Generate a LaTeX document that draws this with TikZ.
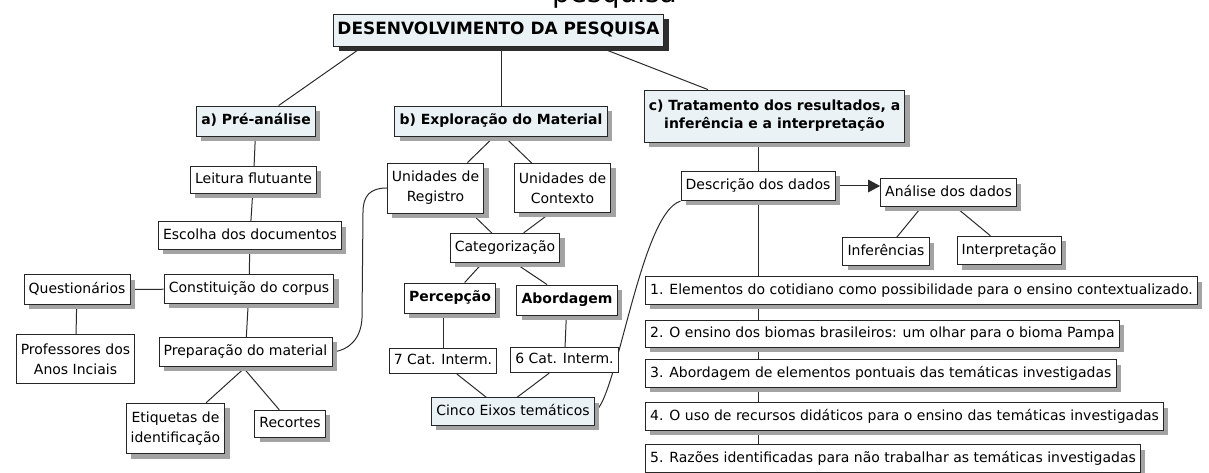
\documentclass[tikz,border=0pt]{standalone}
\usepackage{fontspec}
\setmainfont{DejaVu Sans}
\usetikzlibrary{shadows}
\usetikzlibrary{backgrounds}
\usetikzlibrary{arrows.meta}
\definecolor{PaleBlue}{HTML}{EAF2F6}
\definecolor{ShadowGray}{HTML}{A3A3A3}
\definecolor{ShadowDark}{HTML}{2E2E2E}
\definecolor{LineGray}{HTML}{2B2B2B}
\tikzset{
  plainbox/.style={draw=black!85, line width=0.7pt, fill=white,
    inner xsep=3.5pt, inner ysep=3pt,
    font=\fontsize{10.5}{15}\selectfont},
  cshadow/.style={drop shadow={shadow xshift=3.6pt, shadow yshift=-3.6pt,
    fill=ShadowGray, opacity=1}},
  cbox/.style={plainbox, cshadow},
  oneline/.style={text height=8pt, text depth=2.4pt, minimum height=20.5pt},
  twoline/.style={align=center, minimum height=36.5pt},
  boldtxt/.style={font=\fontsize{10.5}{13.5}\selectfont\bfseries},
  headbox/.style={cbox, boldtxt, fill=PaleBlue},
  titlebox/.style={plainbox, fill=PaleBlue, inner xsep=3pt,
    font=\fontsize{12.7}{15}\selectfont\bfseries,
    text height=9.5pt, text depth=2.6pt, minimum height=24pt,
    drop shadow={shadow xshift=3.8pt, shadow yshift=-3.8pt,
    fill=ShadowDark, opacity=1}},
  link/.style={draw=LineGray, line width=0.75pt}
}

\begin{document}
\begin{tikzpicture}[x=0.75pt,y=-0.75pt]
  \useasboundingbox (0,0) rectangle (1209,473);

  % caption, cut off by the page
  \node[font=\fontsize{21}{21}\selectfont, anchor=base, inner sep=0pt] (cap) at (614.5,3) {pesquisa};

  \node[titlebox] (title) at (498.5,30) {DESENVOLVIMENTO DA PESQUISA};

  \node[headbox, oneline, minimum height=22.5pt] (pa) at (256,121) {a) Pré-análise};
  \node[headbox, oneline, minimum height=22.5pt] (pb) at (501,121) {b) Exploração do Material};
  \node[headbox, align=center, minimum height=39pt] (pc) at (774.5,116)
    {c) Tratamento dos resultados, a\\inferência e a interpretação};

  % pre-analise
  \node[cbox, oneline] (leit) at (253.5,180) {Leitura flutuante};
  \node[cbox, oneline] (esc) at (250,235.5) {Escolha dos documentos};
  \node[cbox, oneline, minimum height=22pt] (const) at (249,289) {Constituição do corpus};
  \node[cbox, oneline, minimum height=22pt] (quest) at (77,289.5) {Questionários};
  \node[plainbox, twoline] (prof) at (75.5,359) {Professores dos\\Anos Inciais};
  \node[cbox, oneline, minimum height=22pt] (prep) at (245.5,352) {Preparação do material};
  \node[cbox, twoline, minimum height=38pt] (etiq) at (175.5,428.5) {Etiquetas de\\identificação};
  \node[cbox, oneline] (rec) at (290,424) {Recortes};

  % exploracao
  \node[cbox, twoline, minimum height=37.5pt] (reg) at (435.5,188) {Unidades de\\Registro};
  \node[cbox, twoline] (ctx) at (562.5,188) {Unidades de\\Contexto};
  \node[cbox, oneline, minimum height=22pt] (cat) at (505,248) {Categorização};
  \node[cbox, oneline, boldtxt, minimum height=22.5pt] (perc) at (450,298) {Percepção};
  \node[cbox, oneline, boldtxt, minimum height=22.5pt] (abord) at (567,300) {Abordagem};
  \node[plainbox, oneline, minimum height=19pt] (cat7) at (443,361) {7 Cat. Interm.};
  \node[plainbox, oneline, minimum height=19pt] (cat6) at (564.5,360) {6 Cat. Interm.};
  \node[cbox, oneline, fill=PaleBlue] (cinco) at (513,411.5) {Cinco Eixos temáticos};

  % tratamento
  \node[cbox, oneline, minimum height=22pt] (desc) at (758,186) {Descrição dos dados};
  \node[cbox, oneline] (anal) at (948.5,192.5) {Análise dos dados};
  \node[cbox, oneline] (inf) at (886,251.5) {Inferências};
  \node[cbox, oneline, minimum height=21.5pt] (interp) at (1009,250.5) {Interpretação};

  \node[cbox, oneline, anchor=west] (e1) at (645,290.5) {1. Elementos do cotidiano como possibilidade para o ensino contextualizado.};
  \node[cbox, oneline, anchor=west] (e2) at (645,334) {2. O ensino dos biomas brasileiros: um olhar para o bioma Pampa};
  \node[cbox, oneline, anchor=west] (e3) at (645,373.5) {3. Abordagem de elementos pontuais das temáticas investigadas};
  \node[cbox, oneline, anchor=west] (e4) at (645,416.5) {4. O uso de recursos didáticos para o ensino das temáticas investigadas};
  \node[cbox, oneline, anchor=west] (e5) at (645,458.5) {5. Razões identificadas para não trabalhar as temáticas investigadas};

  \begin{scope}[on background layer]
    \draw[link] ([xshift=22.5pt]title.south west) -- ([xshift=17pt]pa.north);
    \draw[link] (pb.north |- title.south) -- (pb.north);
    \draw[link] ([xshift=-50pt]title.south east) -- ([xshift=-50pt]pc.north);

    \draw[link] (pa) -- (leit);
    \draw[link] (leit) -- (esc);
    \draw[link] (esc) -- (const);
    \draw[link] (quest) -- (const);
    \draw[link] (quest) -- (prof);
    \draw[link] (const) -- (prep);
    \draw[link] (prep.south) -- ([xshift=23pt]etiq.north);
    \draw[link] ([xshift=-2pt]prep.south) -- ([xshift=-8pt]rec.north);
    \draw[link] (reg.west) .. controls (370,188) and (363,196) .. (363,212)
      -- (362,318) .. controls (361,338) and (350,350) .. (prep.east);

    \draw[link] ([xshift=-5pt]pb.south) -- ([xshift=24pt]reg.north);
    \draw[link] ([xshift=2.3pt]pb.south) -- ([xshift=-23pt]ctx.north);
    \draw[link] ([xshift=27pt]reg.south) -- ([xshift=-10pt]cat.north);
    \draw[link] ([xshift=-9pt]ctx.south) -- ([xshift=14pt]cat.north);
    \draw[link] ([xshift=-17pt]cat.south) -- ([xshift=11pt]perc.north);
    \draw[link] ([xshift=7.5pt]cat.south) -- ([xshift=-15pt]abord.north);
    \draw[link] (cat7.north |- perc.south) -- (cat7.north);
    \draw[link] (abord) -- (cat6);
    \draw[link] ([xshift=10.5pt]cat7.south) -- ([xshift=-20pt]cinco.north);
    \draw[link] ([xshift=-11.5pt]cat6.south) -- ([xshift=3pt]cinco.north);
    \draw[link] (cinco.east) .. controls +(22,-12) and +(-40,12) .. (desc.south west);

    \draw[link] (desc |- pc.south) -- (desc |- e5.north);
    \draw[link] ([xshift=-20pt]anal.south) -- ([xshift=8pt]inf.north);
    \draw[link] ([xshift=5pt]anal.south) -- ([xshift=-14pt]interp.north);
  \end{scope}

  \draw[link, -{Triangle[length=9pt,width=9.5pt]}] ([xshift=3pt]desc.east) -- (desc.east -| anal.west);
\end{tikzpicture}
\end{document}
